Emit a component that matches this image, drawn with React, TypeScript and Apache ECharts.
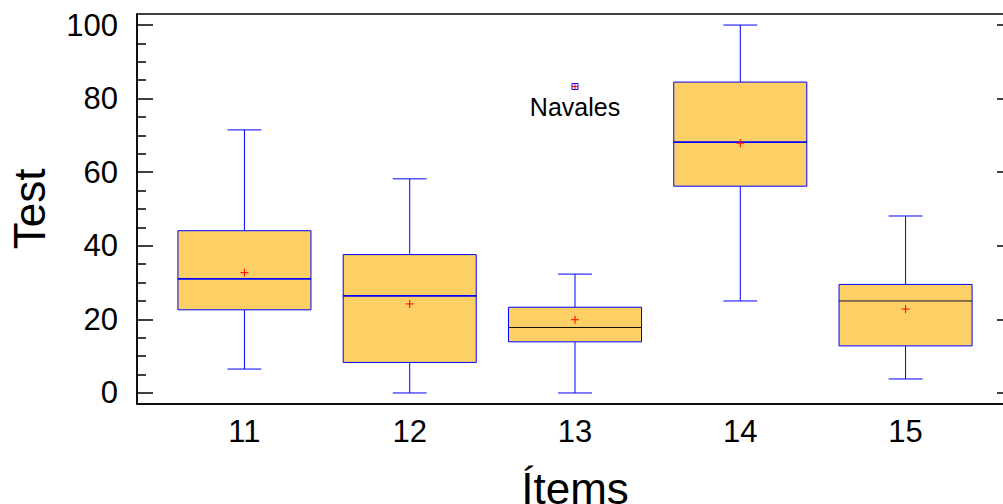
import React, { useEffect, useRef } from "react";
import * as echarts from "echarts";

const categories = [11, 12, 13, 14, 15];
const whiskerLow = [6.5, 0, 0, 25.0, 3.8];
const q1 = [22.6, 8.3, 13.9, 56.2, 12.8];
const medians = [31.0, 26.4, 17.8, 68.2, 25.0];
const q3 = [44.1, 37.6, 23.3, 84.5, 29.5];
const whiskerHigh = [71.5, 58.2, 32.3, 100, 48.1];
const means = [32.7, 24.2, 19.9, 67.9, 22.8];
const medianLineColors = ["#0000ff", "#0000ff", "#111111", "#0000ff", "#111133"];

const outlierItem = [13];
const outlierValue = [83.3];
const outlierName = ["Navales"];

const yMajorTicks = [0, 20, 40, 60, 80, 100];
const yMinorTicks = [5, 10, 15, 25, 30, 35, 45, 50, 55, 65, 70, 75, 85, 90, 95];

const FONT = "Liberation Sans, Arial, sans-serif";
const BOX_FILL = "#FDD066";
const BLUE = "#0000ff";

export default function App() {
  const ref = useRef<HTMLDivElement>(null);
  useEffect(() => {
    document.body.style.margin = "0";
    const chart = echarts.init(ref.current!, null, { renderer: "svg" });
    const boxData = categories.map((c, i) => [
      c,
      whiskerLow[i],
      q1[i],
      medians[i],
      q3[i],
      whiskerHigh[i],
      means[i],
      i,
    ]);
    const outData = outlierItem.map((c, i) => ({
      value: [c, outlierValue[i]],
      name: outlierName[i],
    }));
    const yBase = {
      type: "value",
      min: -3,
      max: 103,
      splitLine: { show: false },
    };
    chart.setOption({
      animation: false,
      grid: {
        left: 137,
        top: 14,
        width: 876,
        height: 390,
        outerBoundsMode: "none",
        containLabel: false,
        show: true,
        borderColor: "#000",
        borderWidth: 1.5,
        backgroundColor: "transparent",
      },
      xAxis: {
        type: "value",
        min: 10.35,
        max: 15.65,
        splitLine: { show: false },
        axisLine: { show: true, onZero: false, lineStyle: { color: "#000", width: 1.5 } },
        axisTick: { show: false },
        axisLabel: {
          customValues: categories,
          color: "#000",
          fontSize: 31,
          fontFamily: FONT,
          margin: 12,
        },
        name: "Ítems",
        nameLocation: "middle",
        nameGap: 68,
        nameTextStyle: { color: "#000", fontSize: 44, lineHeight: 32, fontFamily: FONT },
      },
      yAxis: [
        {
          ...yBase,
          axisLine: { show: true, onZero: false, lineStyle: { color: "#000", width: 1.5 } },
          axisTick: {
            show: true,
            inside: true,
            length: 16,
            customValues: yMajorTicks,
            lineStyle: { color: "#000", width: 1.5 },
          },
          axisLabel: {
            customValues: yMajorTicks,
            color: "#000",
            fontSize: 31,
            fontFamily: FONT,
            margin: 19,
          },
          name: "Test",
          nameLocation: "middle",
          nameGap: 86,
          nameTextStyle: { color: "#000", fontSize: 44, fontFamily: FONT },
        },
        {
          ...yBase,
          position: "left",
          axisLine: { show: false },
          axisTick: {
            show: true,
            inside: true,
            length: 9,
            customValues: yMinorTicks,
            lineStyle: { color: "#000", width: 1.5 },
          },
          axisLabel: { show: false },
        },
        {
          ...yBase,
          position: "right",
          axisLine: { show: false },
          axisTick: {
            show: true,
            inside: true,
            length: 16,
            customValues: yMajorTicks,
            lineStyle: { color: "#000", width: 1.5 },
          },
          axisLabel: { show: false },
        },
      ],
      series: [
        {
          type: "custom",
          xAxisIndex: 0,
          yAxisIndex: 0,
          data: boxData,
          renderItem: (params: any, api: any) => {
            const x = api.value(0);
            const lo = api.coord([x, api.value(1)]);
            const b = api.coord([x, api.value(2)]);
            const m = api.coord([x, api.value(3)]);
            const t = api.coord([x, api.value(4)]);
            const hi = api.coord([x, api.value(5)]);
            const mn = api.coord([x, api.value(6)]);
            const idx = api.value(7);
            const w = api.size([0.805, 0])[0];
            const cw = api.size([0.205, 0])[0];
            const cx = b[0];
            return {
              type: "group",
              children: [
                {
                  type: "line",
                  shape: { x1: cx, y1: t[1], x2: cx, y2: hi[1] },
                  style: { stroke: BLUE, lineWidth: 1 },
                },
                {
                  type: "line",
                  shape: { x1: cx, y1: b[1], x2: cx, y2: lo[1] },
                  style: { stroke: BLUE, lineWidth: 1 },
                },
                {
                  type: "line",
                  shape: { x1: cx - cw / 2, y1: hi[1], x2: cx + cw / 2, y2: hi[1] },
                  style: { stroke: BLUE, lineWidth: 1 },
                },
                {
                  type: "line",
                  shape: { x1: cx - cw / 2, y1: lo[1], x2: cx + cw / 2, y2: lo[1] },
                  style: { stroke: BLUE, lineWidth: 1 },
                },
                {
                  type: "rect",
                  shape: { x: cx - w / 2, y: t[1], width: w, height: b[1] - t[1] },
                  style: { fill: BOX_FILL, stroke: BLUE, lineWidth: 1 },
                },
                {
                  type: "line",
                  shape: { x1: cx - w / 2, y1: m[1], x2: cx + w / 2, y2: m[1] },
                  style: {
                    stroke: medianLineColors[idx],
                    lineWidth: medianLineColors[idx] === BLUE ? 1.8 : 1,
                  },
                },
                {
                  type: "line",
                  shape: { x1: cx - 4, y1: mn[1], x2: cx + 4, y2: mn[1] },
                  style: { stroke: "#ff0000", lineWidth: 1 },
                },
                {
                  type: "line",
                  shape: { x1: cx, y1: mn[1] - 4, x2: cx, y2: mn[1] + 4 },
                  style: { stroke: "#ff0000", lineWidth: 1 },
                },
              ],
            };
          },
        },
        {
          type: "custom",
          xAxisIndex: 0,
          yAxisIndex: 0,
          data: outData,
          renderItem: (params: any, api: any) => {
            const p = api.coord([api.value(0), api.value(1)]);
            const name = outlierName[params.dataIndex];
            return {
              type: "group",
              children: [
                {
                  type: "rect",
                  shape: { x: p[0] - 3, y: p[1] - 3, width: 6, height: 6 },
                  style: { fill: "#fff", stroke: BLUE, lineWidth: 1 },
                },
                {
                  type: "line",
                  shape: { x1: p[0] - 3, y1: p[1], x2: p[0] + 3, y2: p[1] },
                  style: { stroke: "#ff0000", lineWidth: 1 },
                },
                {
                  type: "line",
                  shape: { x1: p[0], y1: p[1] - 3, x2: p[0], y2: p[1] + 3 },
                  style: { stroke: "#ff0000", lineWidth: 1 },
                },
                {
                  type: "text",
                  x: p[0],
                  y: p[1] + 21,
                  style: {
                    text: name,
                    fill: "#000",
                    font: `25px ${FONT}`,
                    align: "center",
                    verticalAlign: "middle",
                  },
                },
              ],
            };
          },
        },
      ],
    });
    return () => chart.dispose();
  }, []);
  return (
    <div
      style={{
        position: "absolute",
        left: 0,
        top: 0,
        width: 1003,
        height: 504,
        overflow: "hidden",
      }}
    >
      <div ref={ref} style={{ width: 1040, height: 504 }} />
    </div>
  );
}
